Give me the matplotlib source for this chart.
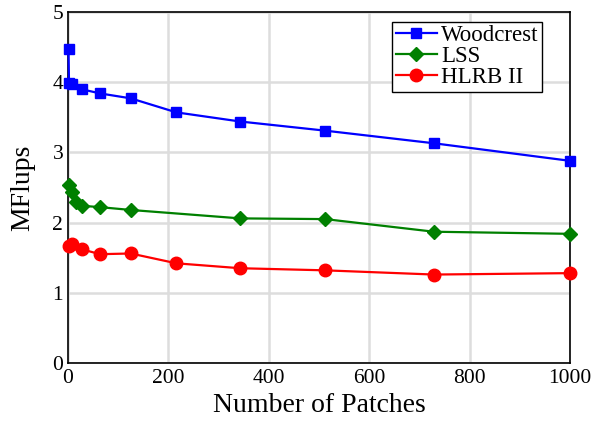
import matplotlib
matplotlib.use('Agg')
import matplotlib.pyplot as plt

plt.rcParams['font.family'] = ['Liberation Serif', 'DejaVu Serif']

# Woodcrest
x_wc = [1, 2, 8, 27, 64, 125, 216, 343, 512, 729, 1000]
y_wc = [4.47, 3.99, 3.97, 3.90, 3.84, 3.77, 3.57, 3.44, 3.31, 3.13, 2.88]
# LSS
x_lss = [1, 8, 16, 27, 64, 125, 343, 512, 729, 1000]
y_lss = [2.54, 2.44, 2.29, 2.24, 2.22, 2.18, 2.06, 2.05, 1.87, 1.84]
# HLRB II
x_hl = [1, 8, 27, 64, 125, 216, 343, 512, 729, 1000]
y_hl = [1.67, 1.69, 1.62, 1.55, 1.56, 1.42, 1.35, 1.32, 1.26, 1.28]

xticks = [0, 200, 400, 600, 800, 1000]
yticks = [0, 1, 2, 3, 4, 5]

fig = plt.figure(figsize=(5.94, 4.26), dpi=100)
ax = fig.add_axes([68/594, 1 - 363/426, (570-68)/594, (363-12)/426])

ax.plot(x_wc, y_wc, color='#0000ff', marker='s', markersize=7.5, linewidth=1.6,
        label='Woodcrest', clip_on=False, zorder=3)
ax.plot(x_lss, y_lss, color='#008000', marker='D', markersize=7, linewidth=1.6,
        label='LSS', clip_on=False, zorder=3)
ax.plot(x_hl, y_hl, color='#ff0000', marker='o', markersize=9, linewidth=1.6,
        label='HLRB II', clip_on=False, zorder=3)

ax.set_xlim(0, 1000)
ax.set_ylim(0, 5)
ax.set_xticks(xticks)
ax.set_yticks(yticks)
ax.tick_params(axis='x', length=0, labelsize=15.5, pad=4)
ax.tick_params(axis='y', length=0, labelsize=15.5, pad=3.5)
ax.grid(color='#dddddd', linewidth=1.8)
ax.set_axisbelow(True)
for s in ax.spines.values():
    s.set_linewidth(1.2)

ax.set_xlabel('Number of Patches', fontsize=20, labelpad=4)
ax.set_ylabel('MFlups', fontsize=20, labelpad=12)

leg = ax.legend(loc='upper right', bbox_to_anchor=(0.945, 0.972), fontsize=16.5,
                frameon=True, fancybox=False, edgecolor='black', framealpha=1,
                borderpad=0.15, labelspacing=0.0, handlelength=1.8,
                handletextpad=0.2, borderaxespad=0)
leg.get_frame().set_linewidth(1.0)

fig.savefig('out.png', dpi=100)
